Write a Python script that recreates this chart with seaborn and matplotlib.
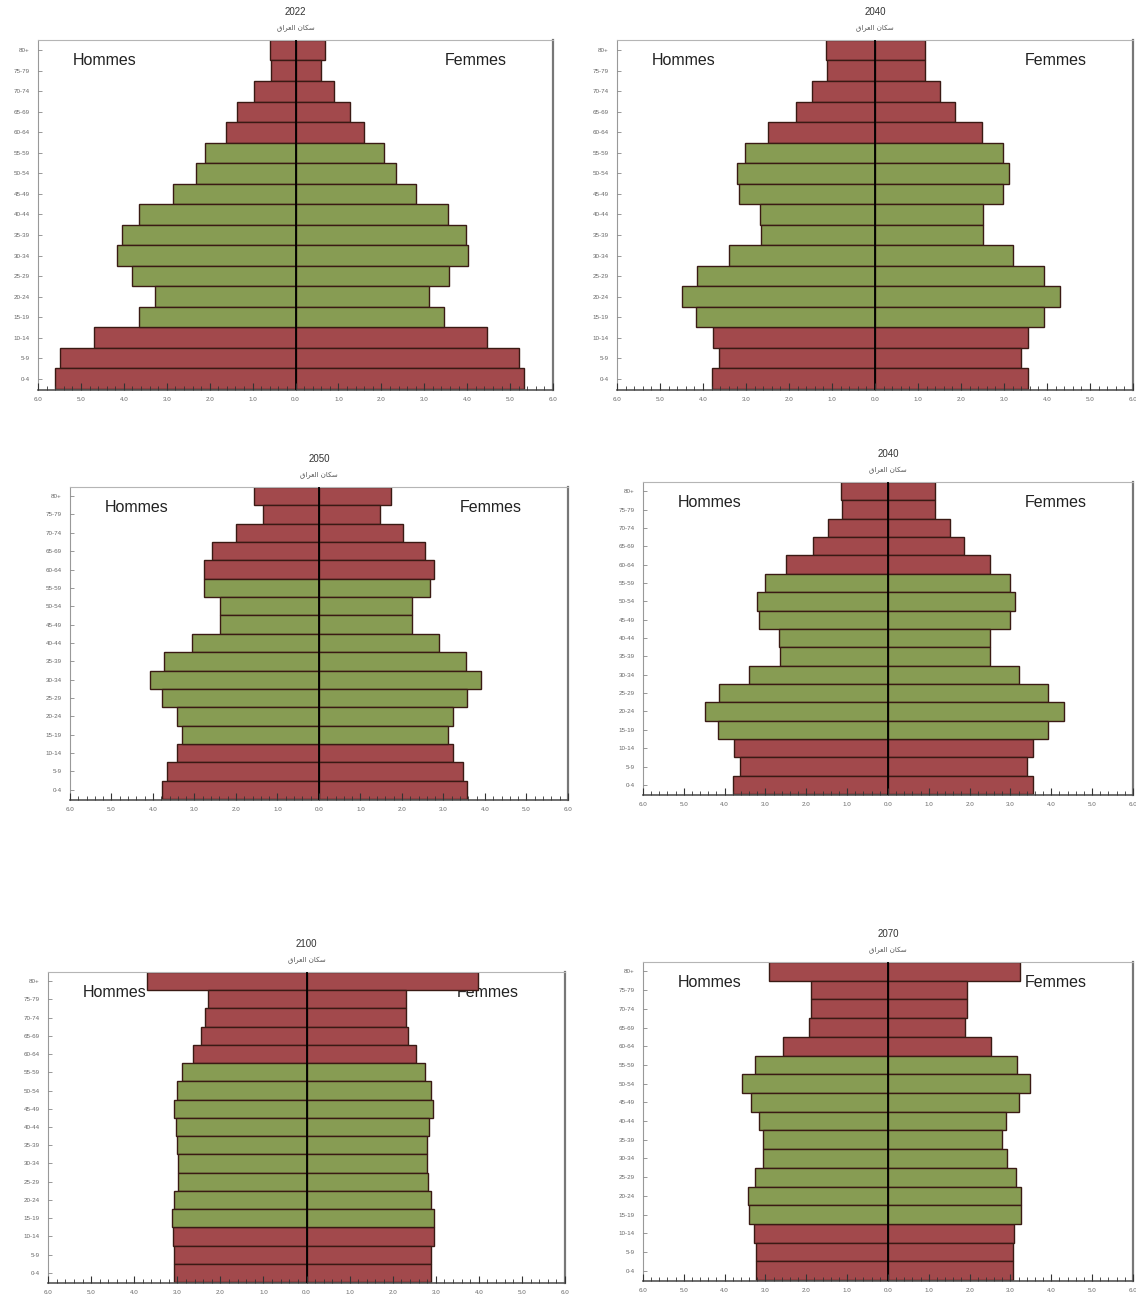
import matplotlib
matplotlib.use("Agg")
import matplotlib.pyplot as plt
import pandas as pd
import seaborn as sns
from matplotlib.ticker import MultipleLocator, FuncFormatter

# Age groups, oldest at the top of each pyramid
ages = ["80+", "75-79", "70-74", "65-69", "60-64", "55-59", "50-54", "45-49",
        "40-44", "35-39", "30-34", "25-29", "20-24", "15-19", "10-14", "5-9", "0-4"]
# Dependent ages (0-14, 60+) vs working ages (15-59)
age_band = ["dep"] * 5 + ["work"] * 9 + ["dep"] * 3

# Share of total population (%) by sex
men_2022 = [0.60, 0.56, 0.96, 1.36, 1.62, 2.10, 2.33, 2.85, 3.65, 4.05, 4.15, 3.80, 3.27, 3.65, 4.70, 5.50, 5.60]
women_2022 = [0.68, 0.60, 0.90, 1.27, 1.60, 2.05, 2.33, 2.80, 3.55, 3.98, 4.02, 3.57, 3.10, 3.45, 4.47, 5.20, 5.32]

men_2040 = [1.14, 1.12, 1.47, 1.84, 2.49, 3.02, 3.20, 3.16, 2.67, 2.65, 3.40, 4.14, 4.49, 4.16, 3.77, 3.63, 3.79]
women_2040 = [1.16, 1.16, 1.51, 1.86, 2.49, 2.98, 3.12, 2.98, 2.51, 2.51, 3.20, 3.93, 4.30, 3.93, 3.56, 3.40, 3.56]

men_2050 = [1.57, 1.35, 2.00, 2.58, 2.77, 2.77, 2.39, 2.39, 3.06, 3.73, 4.07, 3.78, 3.42, 3.30, 3.42, 3.66, 3.78]
women_2050 = [1.73, 1.47, 2.02, 2.55, 2.77, 2.67, 2.24, 2.24, 2.89, 3.54, 3.90, 3.57, 3.23, 3.11, 3.23, 3.47, 3.57]

men_2100 = [3.70, 2.28, 2.35, 2.44, 2.63, 2.88, 3.00, 3.07, 3.02, 3.00, 2.98, 2.98, 3.07, 3.12, 3.10, 3.07, 3.07]
women_2100 = [3.98, 2.30, 2.30, 2.35, 2.53, 2.74, 2.88, 2.93, 2.84, 2.79, 2.79, 2.81, 2.90, 2.95, 2.95, 2.90, 2.90]

men_2070 = [2.92, 1.89, 1.89, 1.94, 2.57, 3.26, 3.58, 3.36, 3.16, 3.06, 3.06, 3.26, 3.43, 3.40, 3.28, 3.23, 3.23]
women_2070 = [3.24, 1.94, 1.94, 1.89, 2.52, 3.16, 3.48, 3.21, 2.89, 2.79, 2.92, 3.14, 3.26, 3.26, 3.09, 3.06, 3.06]

# Iraq's population (Arabic), written in presentation forms in display order
subtitle = "\uFED5\uFE8D\uFEAE\uFECC\uFEDF\uFE8D \uFEE5\uFE8E\uFEDC\uFEB3"

palette = {"dep": "#B13A3E", "work": "#8CA847"}

panels = [
    ("2022", men_2022, women_2022, [0.0335, 0.7005, 0.4533, 0.2688]),
    ("2040", men_2040, women_2040, [0.5431, 0.7005, 0.4542, 0.2688]),
    ("2050", men_2050, women_2050, [0.0616, 0.3856, 0.4384, 0.2404]),
    ("2040", men_2040, women_2040, [0.5660, 0.3894, 0.4313, 0.2404]),
    ("2100", men_2100, women_2100, [0.0423, 0.0146, 0.4551, 0.2389]),
    ("2070", men_2070, women_2070, [0.5660, 0.0161, 0.4313, 0.2450]),
]

sns.set_style("white")
plt.rcParams["font.family"] = ["Liberation Sans", "DejaVu Sans"]

fig = plt.figure(figsize=(11.36, 13.02), dpi=100)

for year, men, women, rect in panels:
    ax = fig.add_axes(rect)
    left = pd.DataFrame({"age": ages, "value": [-v for v in men], "band": age_band})
    right = pd.DataFrame({"age": ages, "value": women, "band": age_band})
    for df in (left, right):
        sns.barplot(data=df, x="value", y="age", hue="band", order=ages,
                    hue_order=["dep", "work"], palette=palette, dodge=False,
                    width=1.0, edgecolor="#3a1a14", linewidth=1.0,
                    orient="h", legend=False, ax=ax, zorder=2)
    ax.axvline(0, color="black", lw=1.3, zorder=3)
    # tick marks sit on top of the bars
    ax.xaxis.set_zorder(5)
    ax.yaxis.set_zorder(5)

    ax.set_xlim(-6, 6)
    ax.set_ylim(16.55, -0.5)
    ax.set_xlabel("")
    ax.set_ylabel("")
    ax.xaxis.set_major_locator(MultipleLocator(1.0))
    ax.xaxis.set_minor_locator(MultipleLocator(0.2))
    ax.xaxis.set_major_formatter(FuncFormatter(lambda v, _: f"{abs(v):.1f}"))
    ax.tick_params(axis="x", which="major", direction="in", length=5, width=0.8,
                   color="#333333", labelsize=4.5, labelcolor="#666666", pad=5,
                   bottom=True)
    ax.tick_params(axis="x", which="minor", direction="in", length=3, width=0.6,
                   color="#333333", bottom=True)
    ax.tick_params(axis="y", which="major", direction="in", length=3, width=0.6,
                   color="#888888", labelsize=4.5, labelcolor="#666666", pad=6,
                   left=True)

    ax.spines["left"].set_color("#999999")
    ax.spines["top"].set_color("#b5b5b5")
    ax.spines["bottom"].set_color("#555555")
    ax.spines["right"].set_color("#777777")
    ax.spines["right"].set_linewidth(1.6)
    ax.spines["bottom"].set_linewidth(1.2)

    ax.annotate("Hommes", xy=(0, 1), xycoords="axes fraction",
                xytext=(25, -14.5), textcoords="offset points",
                ha="left", va="center", fontsize=11.5, color="#222222", zorder=1)
    ax.annotate("Femmes", xy=(1, 1), xycoords="axes fraction",
                xytext=(-33, -14.5), textcoords="offset points",
                ha="right", va="center", fontsize=11.5, color="#222222", zorder=1)

    ax.annotate(year, xy=(0.5, 1), xycoords="axes fraction",
                xytext=(0, 20), textcoords="offset points",
                ha="center", va="center", fontsize=7, color="#333333")
    ax.annotate(subtitle, xy=(0.5, 1), xycoords="axes fraction",
                xytext=(0, 8.5), textcoords="offset points",
                ha="center", va="center", fontsize=5, color="#555555",
                family="DejaVu Sans")

fig.savefig("out.png", dpi=100)
